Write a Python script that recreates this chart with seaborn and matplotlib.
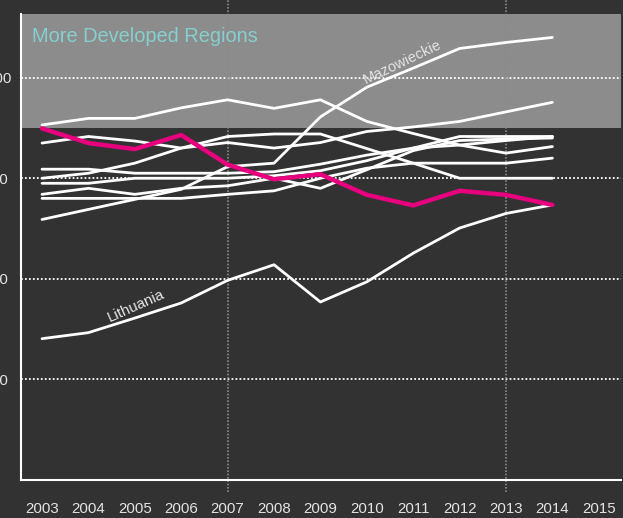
import matplotlib
matplotlib.use("Agg")
import matplotlib.pyplot as plt
import matplotlib.transforms as mtransforms
import numpy as np
import pandas as pd
import seaborn as sns

# Regional GDP per head index, 2003-2014
years = list(range(2003, 2015))

region_top = [90.6, 91.9, 91.9, 94.0, 95.6, 93.9, 95.6, 91.3, 88.9, 86.6, 85.0, 86.3]
region_a = [87.0, 88.3, 87.4, 86.0, 87.1, 86.0, 87.1, 89.3, 90.2, 91.3, 93.2, 95.1]
region_b = [80.0, 81.0, 83.0, 86.0, 88.3, 88.8, 88.8, 85.9, 83.0, 80.0, 80.0, 80.0]
region_c = [81.8, 81.8, 81.0, 81.0, 81.0, 81.3, 82.8, 84.6, 86.0, 86.6, 87.5, 88.3]
region_d = [79.0, 79.0, 80.0, 80.0, 80.0, 80.5, 81.5, 83.5, 86.0, 88.3, 88.3, 88.3]
region_e = [76.8, 78.0, 76.8, 78.0, 78.5, 80.0, 78.0, 81.7, 85.5, 87.5, 87.8, 88.0]
region_f = [76.0, 76.0, 76.0, 76.0, 76.8, 77.5, 80.0, 82.0, 83.0, 83.0, 83.0, 84.0]
mazowieckie = [71.8, 73.8, 75.8, 77.8, 82.3, 83.0, 92.2, 98.1, 101.9, 105.8, 107.0, 108.0]
lithuania = [48.1, 49.3, 52.2, 55.2, 59.7, 62.8, 55.4, 59.4, 65.1, 70.1, 73.0, 74.7]
highlight = [89.9, 87.0, 85.8, 88.6, 82.7, 79.8, 80.8, 76.7, 74.6, 77.5, 76.7, 74.7]

white_series = {
    "Region top": region_top,
    "Region A": region_a,
    "Region B": region_b,
    "Region C": region_c,
    "Region D": region_d,
    "Region E": region_e,
    "Region F": region_f,
    "Mazowieckie": mazowieckie,
    "Lithuania": lithuania,
}

y_ticks = [40, 60, 80, 100]
x_ticks = list(range(2003, 2016))
period_marks = [2007, 2013]
threshold = 90

band_label = "More Developed Regions"

BG = "#323232"
BAND = "#8c8c8c"
MAGENTA = "#e6007e"
TEXT = "#e4e4e4"

sns.set_style("dark")
plt.rcParams["font.family"] = ["Liberation Sans", "DejaVu Sans"]

fig = plt.figure(figsize=(6.23, 5.18), dpi=100, facecolor=BG)
ax = fig.add_axes([21 / 623, 38 / 518, 600 / 623, 466 / 518])
ax.set_facecolor(BG)

xmin, xmax = 2002.547, 2015.478
ymin, ymax = 20.0, 112.66
ax.set_xlim(xmin, xmax)
ax.set_ylim(ymin, ymax)

# shaded band above the threshold
ax.axhspan(threshold, ymax, color=BAND, lw=0, zorder=0)

# dotted horizontal grid
for yv in y_ticks:
    ax.axhline(yv, color="white", lw=1.3, dashes=(1.0, 1.2), zorder=1)

# dotted programming period markers, running past the axes
trans = mtransforms.blended_transform_factory(ax.transData, ax.transAxes)
for xv in period_marks:
    ax.plot([xv, xv], [-0.026, 1.04], transform=trans, color="#8a8a8a",
            lw=1.2, dashes=(1.0, 1.0), clip_on=False, zorder=1)

long = pd.DataFrame(
    [(name, yr, v) for name, vals in white_series.items() for yr, v in zip(years, vals)],
    columns=["region", "year", "value"],
)
sns.lineplot(data=long, x="year", y="value", units="region", estimator=None,
             color="white", lw=2.0, ax=ax, zorder=3)
sns.lineplot(x=years, y=highlight, color=MAGENTA, lw=3.2, ax=ax, zorder=4)

ax.text(2010.76, 103.1, "Mazowieckie", rotation=25.5, ha="center", va="center",
        color=TEXT, fontsize=10.6, zorder=5, rotation_mode="anchor")
ax.text(2005.03, 54.6, "Lithuania", rotation=24, ha="center", va="center",
        color=TEXT, fontsize=10.8, zorder=5, rotation_mode="anchor")

ax.text(0.0183, 0.973, band_label, transform=ax.transAxes, ha="left", va="top",
        color="#86cfcf", fontsize=14.4, zorder=5)

ax.set_xticks(x_ticks)
ax.set_xticklabels([str(x) for x in x_ticks])
ax.set_yticks(y_ticks)
ax.set_yticklabels([str(y) for y in y_ticks])
ax.tick_params(axis="x", length=0, pad=16, labelsize=10.8, colors=TEXT)
ax.tick_params(axis="y", length=0, pad=15.1, labelsize=10.8, colors=TEXT)
for lbl in ax.get_yticklabels():
    lbl.set_horizontalalignment("center")
ax.set_xlabel("")
ax.set_ylabel("")
ax.grid(False)

for side in ["top", "right"]:
    ax.spines[side].set_visible(False)
for side in ["left", "bottom"]:
    ax.spines[side].set_visible(True)
    ax.spines[side].set_color("white")
    ax.spines[side].set_linewidth(1.5)

fig.savefig("out.png", dpi=100, facecolor=BG)
